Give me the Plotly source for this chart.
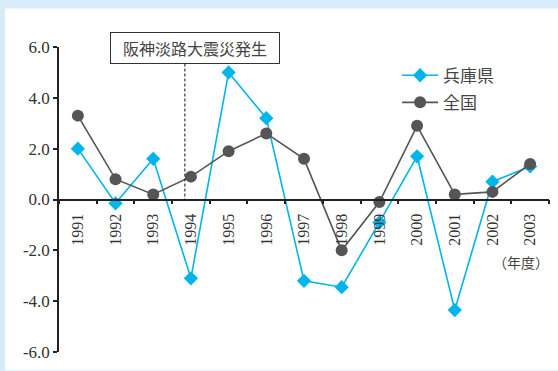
import plotly.graph_objects as go

years = ["1991", "1992", "1993", "1994", "1995", "1996", "1997",
         "1998", "1999", "2000", "2001", "2002", "2003"]
hyogo = [2.0, -0.15, 1.6, -3.1, 5.0, 3.2, -3.2, -3.45, -0.9, 1.7, -4.35, 0.7, 1.3]
zenkoku = [3.3, 0.8, 0.2, 0.9, 1.9, 2.6, 1.6, -2.0, -0.1, 2.9, 0.2, 0.3, 1.4]
y_ticks = [6, 4, 2, 0, -2, -4, -6]
y_ticktext = ["6.0", "4.0", "2.0", "0.0", "-2.0", "-4.0", "-6.0"]
series_names = ["兵庫県", "全国"]
event_label = "阪神淡路大震災発生"
unit_label = "（年度）"

BLUE = "#00b5ea"
GRAY = "#555555"
SERIF = "Liberation Serif"
CJK = "Noto Sans CJK JP"

fig = go.Figure()
fig.add_trace(go.Scatter(
    x=years, y=hyogo, name=series_names[0], mode="lines+markers",
    line=dict(color=BLUE, width=1.6),
    marker=dict(symbol="diamond", size=11, color=BLUE),
    legendgroup="a",
))
fig.add_trace(go.Scatter(
    x=years, y=zenkoku, name=series_names[1], mode="lines+markers",
    line=dict(color=GRAY, width=1.6),
    marker=dict(symbol="circle", size=12, color=GRAY),
    legendgroup="b",
))

# white panel over light-blue page
fig.add_shape(type="rect", xref="paper", yref="paper",
              x0=-0.1102, x1=1.02, y0=-0.06, y1=1.1262,
              fillcolor="white", line=dict(width=0), layer="below")

# earthquake marker line
fig.add_shape(type="line", xref="x", yref="y", x0=2.84, x1=2.84, y0=5.35, y1=0,
              line=dict(color="#111111", width=1, dash="3px,2px"))
fig.add_annotation(x=3.1, y=5.97, xref="x", yref="y", text=event_label,
                   showarrow=False, font=dict(family=CJK, size=16, color="#444444"),
                   bordercolor="#333333", borderwidth=1, borderpad=2,
                   bgcolor="white", width=164, height=26)
fig.add_annotation(x=1.005, xref="paper", xanchor="right", y=-2.45, yref="y",
                   text=unit_label, showarrow=False,
                   font=dict(family=CJK, size=14, color="#444444"))

fig.update_layout(
    width=558, height=371,
    margin=dict(l=59, r=9, t=47, b=15),
    paper_bgcolor="#d6edf9", plot_bgcolor="white",
    showlegend=True,
    legend=dict(x=0.69, y=0.965, xanchor="left", yanchor="top",
                bgcolor="rgba(0,0,0,0)", font=dict(family=CJK, size=17, color="#444444"),
                tracegroupgap=2, itemwidth=36),
    xaxis=dict(type="category", range=[-0.5, 12.5], showgrid=False, zeroline=False,
               showline=True, linecolor="#222222", linewidth=1.5,
               ticks="outside", ticklen=4, tickcolor="#222222", tickwidth=1.5,
               tickson="boundaries", tickangle=-90, ticklabelstandoff=7,
               anchor="free", position=0.5,
               tickfont=dict(family=SERIF, size=16, color="#333333")),
    yaxis=dict(range=[-6, 6], tickvals=y_ticks, ticktext=y_ticktext,
               showgrid=False, zeroline=False, showline=True,
               linecolor="#222222", linewidth=1.5,
               ticks="outside", ticklen=4, tickcolor="#222222", tickwidth=1.5,
               tickfont=dict(family=SERIF, size=17, color="#333333")),
)

fig.write_html("out.html")
